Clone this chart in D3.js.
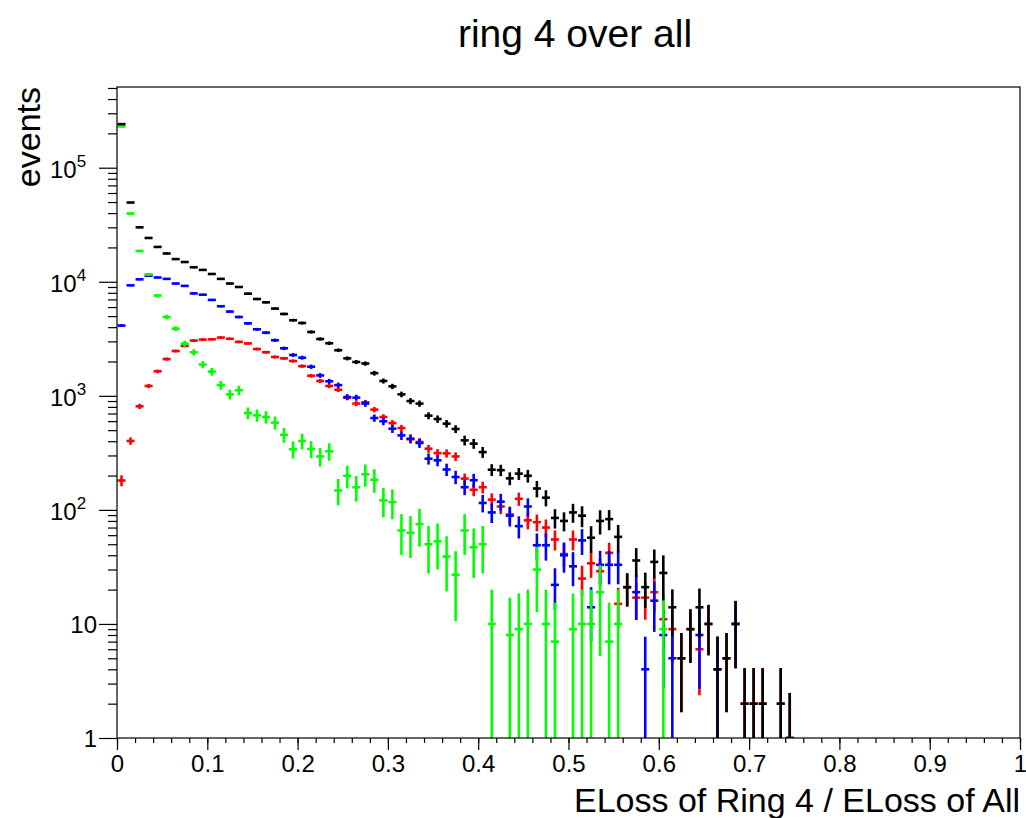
<!DOCTYPE html>
<html>
<head>
<meta charset="utf-8">
<script src="https://cdn.jsdelivr.net/npm/d3@7/dist/d3.min.js"></script>
<style>
  html, body { margin: 0; padding: 0; background: #fff; }
  svg { display: block; }
  text { font-family: "Liberation Sans", Arial, Helvetica, sans-serif; fill: #000; }
</style>
</head>
<body>
<svg id="chart" width="1026" height="818"></svg>
<script>
// Histogram binning of the x quantity
const nBins = 100;
const binWidth = 0.01;
const xTickValues = [0, 0.1, 0.2, 0.3, 0.4, 0.5, 0.6, 0.7, 0.8, 0.9, 1];
const yDecades = [1, 10, 100, 1000, 10000, 100000];

// Bin contents, bins 0..74 (all later bins are empty)
const countsBlack = [
  241000, 49500, 30000, 24200, 20200, 17700, 15800, 14900, 13400, 12700,
  11700, 10600, 9650, 9000, 7870, 7060, 6600, 5820, 5220, 4600,
  4350, 3630, 3150, 2890, 2510, 2130, 1980, 1920, 1580, 1350,
  1210, 1030, 900, 855, 670, 626, 570, 512, 407, 381,
  321, 225, 223, 189, 208, 199, 154, 128, 85, 80,
  95, 89, 57, 80, 83, 58, 21, 36, 21, 35,
  28, 14, 5, 9, 14, 10, 4, 5, 10, 2,
  2, 2, 0, 2, 1
];
const countsBlue = [
  4130, 9300, 10500, 11300, 10900, 10600, 9650, 9200, 7900, 7700,
  6930, 6100, 5480, 4910, 4320, 3830, 3580, 3070, 2610, 2280,
  2160, 1800, 1510, 1340, 1240, 976, 964, 855, 639, 598,
  515, 450, 421, 386, 281, 272, 226, 194, 158, 182,
  115, 95, 118, 89, 72, 107, 49, 49, 22, 40,
  32, 54, 14, 33, 33, 33, 0, 19, 4, 16,
  8, 5, 0, 0, 8, 0, 4, 0, 10, 0,
  0, 0, 0, 0, 0
];
const countsRed = [
  181, 402, 809, 1220, 1640, 2100, 2470, 2740, 3050, 3110,
  3130, 3240, 3160, 2970, 2880, 2570, 2410, 2190, 2130, 2020,
  1820, 1500, 1350, 1220, 1130, 960, 855, 877, 757, 652,
  577, 522, 416, 394, 344, 315, 313, 294, 188, 150,
  158, 123, 107, 91, 125, 81, 78, 70, 55, 41,
  55, 25, 34, 29, 42, 15, 21, 17, 17, 19,
  11, 9, 5, 9, 6, 10, 0, 5, 0, 2,
  2, 2, 0, 2, 1
];
const countsGreen = [
  230000, 39600, 18600, 11600, 7570, 4910, 3880, 2870, 2410, 1880,
  1630, 1240, 1030, 1120, 707, 675, 652, 582, 455, 340,
  402, 342, 294, 326, 148, 199, 158, 205, 184, 121,
  117, 66, 63, 75, 50, 53, 39, 27, 66, 47,
  50, 10, 0, 8, 9, 10, 30, 10, 7, 0,
  9, 10, 10, 19, 7, 10, 0, 0, 0, 0,
  9, 0, 0, 0, 0, 0, 0, 0, 0, 0,
  0, 0, 0, 0, 0
];

// Mean entry weight of each component sample (sum of w^2 = w * content)
const entryWeight = { blue: 3.5, red: 2.2, green: 10 };

const colors = { black: "#000000", blue: "#0000ff", red: "#ff0000", green: "#00ff00" };

// Frame geometry
const margin = { left: 117, right: 1020, top: 87, bottom: 738 };

const svg = d3.select("#chart");
svg.append("rect").attr("width", 1026).attr("height", 818).attr("fill", "#fff");

const x = d3.scaleLinear().domain([0, 1]).range([margin.left, margin.right]);
const y = d3.scaleLog().domain([1, 5.1e5]).range([margin.bottom, margin.top]);

// Per-bin errors: sqrt(sum w^2) for the components, their quadrature sum for the total
const varOf = (counts, w) => counts.map(c => c * w);
const varBlue = varOf(countsBlue, entryWeight.blue);
const varRed = varOf(countsRed, entryWeight.red);
const varGreen = varOf(countsGreen, entryWeight.green);
const varBlack = countsBlack.map((c, i) => {
  const s = varBlue[i] + varRed[i] + varGreen[i];
  return s > 0 ? s : c;
});

function toBins(counts, variances) {
  return counts.map((c, i) => ({ i, c, e: Math.sqrt(variances[i]) })).filter(d => d.c > 0);
}

svg.append("clipPath").attr("id", "plotClip")
  .append("rect")
  .attr("x", margin.left).attr("y", margin.top)
  .attr("width", margin.right - margin.left).attr("height", margin.bottom - margin.top);

const plot = svg.append("g").attr("clip-path", "url(#plotClip)");

function drawHist(bins, color) {
  const g = plot.append("g").attr("stroke", color).attr("stroke-width", 2.6).attr("fill", "none");
  // horizontal bin-width bars
  g.selectAll("line.h").data(bins).join("line").attr("class", "h")
    .attr("x1", d => x(d.i * binWidth) + 0.5)
    .attr("x2", d => x((d.i + 1) * binWidth) - 0.5)
    .attr("y1", d => y(d.c))
    .attr("y2", d => y(d.c));
  // vertical error bars
  g.selectAll("line.v").data(bins).join("line").attr("class", "v")
    .attr("x1", d => x((d.i + 0.5) * binWidth))
    .attr("x2", d => x((d.i + 0.5) * binWidth))
    .attr("y1", d => y(d.c + d.e))
    .attr("y2", d => (d.c - d.e) > 1 ? y(d.c - d.e) : margin.bottom + 2);
}

drawHist(toBins(countsRed, varRed), colors.red);
drawHist(toBins(countsBlue, varBlue), colors.blue);
drawHist(toBins(countsGreen, varGreen), colors.green);
drawHist(toBins(countsBlack, varBlack), colors.black);

// Frame
svg.append("rect")
  .attr("x", margin.left).attr("y", margin.top)
  .attr("width", margin.right - margin.left).attr("height", margin.bottom - margin.top)
  .attr("fill", "none").attr("stroke", "#000").attr("stroke-width", 1.2);

// X axis: major ticks every 0.1, minor every 0.02, drawn below the frame
const xAxis = d3.axisBottom(x)
  .tickValues(d3.range(0, 51).map(k => k * 0.02))
  .tickSize(5)
  .tickFormat("");
const gx = svg.append("g").attr("transform", `translate(0,${margin.bottom})`).call(xAxis);
gx.select(".domain").remove();
gx.selectAll("line").attr("stroke", "#000").attr("stroke-width", 1.2);

const gxMajor = svg.append("g").attr("transform", `translate(0,${margin.bottom})`)
  .call(d3.axisBottom(x).tickValues(xTickValues).tickSize(12).tickPadding(10)
    .tickFormat(d => d === 0 ? "0" : d === 1 ? "1" : d3.format(".1f")(d)));
gxMajor.select(".domain").remove();
gxMajor.selectAll("line").attr("stroke", "#000").attr("stroke-width", 1.2);
gxMajor.selectAll("text").attr("font-size", 24).attr("font-family", null)
  .attr("dy", null).attr("y", 34);

// Y axis: log ticks pointing out of the frame
const minorY = [];
yDecades.forEach(dec => { for (let m = 2; m <= 9; m++) if (dec * m <= 5.1e5) minorY.push(dec * m); });
const gyMinor = svg.append("g").attr("transform", `translate(${margin.left},0)`)
  .call(d3.axisLeft(y).tickValues(minorY).tickSize(9).tickFormat(""));
gyMinor.select(".domain").remove();
gyMinor.selectAll("line").attr("stroke", "#000").attr("stroke-width", 1.2);

const gyMajor = svg.append("g").attr("transform", `translate(${margin.left},0)`)
  .call(d3.axisLeft(y).tickValues(yDecades).tickSize(18).tickFormat(""));
gyMajor.select(".domain").remove();
gyMajor.selectAll("line").attr("stroke", "#000").attr("stroke-width", 1.2);

// Decade labels: plain "1", "10"; power notation above
yDecades.forEach(dec => {
  const yy = y(dec);
  const p = Math.round(Math.log10(dec));
  if (p <= 1) {
    svg.append("text").attr("x", 97).attr("y", yy + 9)
      .attr("text-anchor", "end").attr("font-size", 24).text(String(dec));
  } else {
    const t = svg.append("text").attr("x", 50).attr("y", yy + 10).attr("font-size", 24);
    t.append("tspan").text("10");
    t.append("tspan").attr("font-size", 17).attr("dy", -11).text(String(p));
  }
});

// Titles
svg.append("text").attr("x", 575).attr("y", 47).attr("text-anchor", "middle")
  .attr("font-size", 39).text("ring 4 over all");

svg.append("text").attr("x", margin.right).attr("y", 812).attr("text-anchor", "end")
  .attr("font-size", 34).text("ELoss of Ring 4 / ELoss of All");

svg.append("text").attr("transform", `translate(40,${margin.top}) rotate(-90)`)
  .attr("text-anchor", "end").attr("font-size", 34).text("events");
</script>
</body>
</html>
